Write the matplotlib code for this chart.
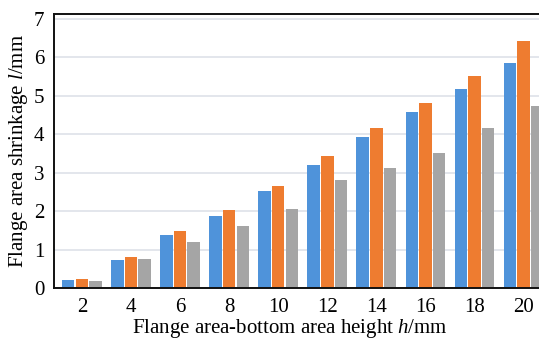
import matplotlib.pyplot as plt
import numpy as np

# Flange area-bottom area height h (mm)
heights_h = ['2', '4', '6', '8', '10', '12', '14', '16', '18', '20']

# Flange area shrinkage l (mm) for the three series
series_a = [0.20, 0.74, 1.38, 1.88, 2.52, 3.20, 3.93, 4.57, 5.16, 5.84]
series_b = [0.24, 0.80, 1.48, 2.02, 2.66, 3.44, 4.16, 4.80, 5.52, 6.43]
series_c = [0.19, 0.75, 1.20, 1.62, 2.06, 2.80, 3.12, 3.51, 4.16, 4.74]

y_ticks = [0, 1, 2, 3, 4, 5, 6, 7]


def main():
    plt.rcParams['font.family'] = ['Liberation Serif', 'DejaVu Serif']
    plt.rcParams['mathtext.fontset'] = 'custom'
    plt.rcParams['mathtext.it'] = 'Liberation Serif:italic'
    plt.rcParams['mathtext.rm'] = 'Liberation Serif'

    fig = plt.figure(figsize=(5.39, 3.41), dpi=100)
    ax = fig.add_axes([0.100, 0.155, 0.917, 0.804])

    x = np.arange(len(heights_h))
    width = 0.255
    step = 0.278
    ax.bar(x - step, series_a, width, color='#4F93DA', zorder=2)
    ax.bar(x, series_b, width, color='#EE7C30', zorder=2)
    ax.bar(x + step, series_c, width, color='#A5A5A5', zorder=2)

    ax.set_xlim(-0.57, 9.5)
    ax.set_ylim(0, 7.12)
    ax.set_xticks(x, heights_h)
    ax.set_yticks(y_ticks)
    ax.tick_params(length=0, labelsize=15, pad=7)
    ax.tick_params(axis='y', pad=7)

    ax.grid(axis='y', color='#E0E4EA', linewidth=1.3, zorder=1)
    ax.spines['right'].set_visible(False)
    for side in ['left', 'top', 'bottom']:
        ax.spines[side].set_linewidth(1.4)
        ax.spines[side].set_color('#111111')

    ax.set_xlabel('Flange area-bottom area height $h$/mm', fontsize=15)
    ax.xaxis.set_label_coords(0.478, -0.104, transform=ax.transAxes)
    ax.xaxis.label.set_va('top')
    ax.set_ylabel('Flange area shrinkage $l$/mm', fontsize=15, labelpad=3)

    fig.savefig('out.png', dpi=100)


if __name__ == '__main__':
    main()
